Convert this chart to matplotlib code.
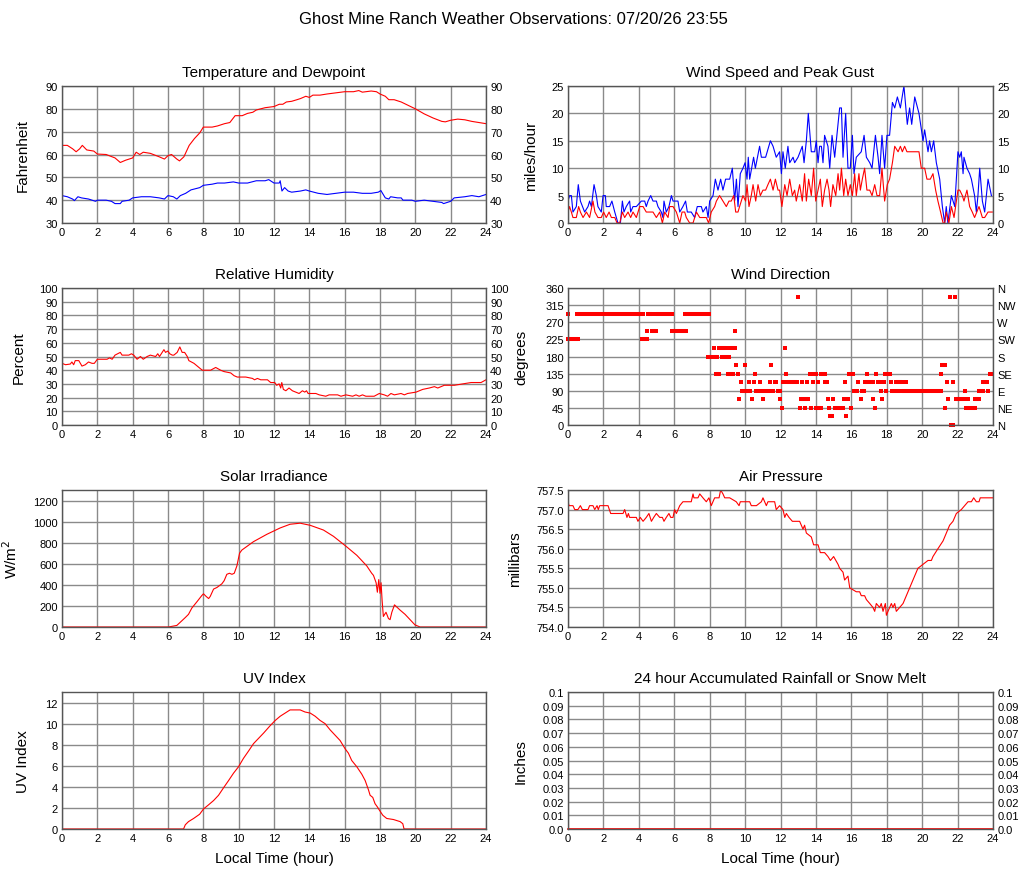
#!/usr/bin/env python3
"""Ghost Mine Ranch daily weather summary, 8 panels."""

import matplotlib
matplotlib.use("Agg")
import matplotlib.pyplot as plt
from matplotlib.ticker import FixedLocator, FixedFormatter

plt.rcParams["font.family"] = ["Liberation Sans", "DejaVu Sans"]

FIG_W, FIG_H = 1027, 878

# temperature / dewpoint (F)
temp_hour = [0, 0.3, 0.6, 0.8, 1.0, 1.15, 1.4, 1.8, 2.0, 2.5, 3.0, 3.3, 3.6, 4.0, 4.2, 4.4,
             4.6, 5.0, 5.5, 5.8, 6.0, 6.2, 6.5, 6.65, 6.9, 7.2, 7.5, 7.8, 8.0, 8.5, 8.8, 9.2,
             9.5, 9.8, 10.2, 10.5, 10.8, 11.0, 11.5, 12.0, 12.3, 12.5, 12.7, 13.0, 13.3, 13.5,
             13.8, 14.0, 14.2, 14.6, 15.0, 15.5, 16.0, 16.5, 16.8, 17.0, 17.5, 17.8, 18.0,
             18.3, 18.5, 18.8, 19.2, 19.6, 20.0, 20.5, 21.0, 21.5, 21.7, 22.0, 22.4, 22.8,
             23.2, 23.6, 24]
temp_f = [64, 64, 62.5, 61.2, 62.5, 64, 62, 61.5, 60.2, 60, 58.5, 56.5, 57.5, 58.5, 61, 60,
          61, 60.5, 59, 58, 59.5, 60, 58, 57.2, 59, 64, 67, 69.5, 72, 72, 72.5, 73.5,
          74, 77, 77, 78, 78.5, 79.5, 80.5, 81, 82, 82, 83, 83.3, 84, 84.5,
          85.5, 85, 86, 86, 86.5, 87, 87.5, 87.5, 88, 87.3, 87.8, 87.5, 86.5,
          85.5, 84, 84, 83, 81.5, 80, 77.8, 76, 74.5, 74.3, 75, 75.5, 75.2,
          74.5, 74, 73.5]
dew_hour = [0, 0.3, 0.6, 0.7, 0.9, 1.1, 1.5, 1.9, 2.0, 2.5, 2.8, 3.0, 3.3, 3.4, 3.8, 4.0,
            4.5, 5.0, 5.5, 5.8, 6.0, 6.3, 6.5, 6.7, 7.0, 7.3, 7.8, 8.0, 8.5, 8.8, 9.2, 9.7,
            10.0, 10.5, 11.0, 11.5, 11.7, 12.0, 12.3, 12.35, 12.45, 12.6, 12.8, 13.0, 13.5,
            13.8, 14.0, 14.5, 15.0, 15.5, 16.0, 16.5, 17.0, 17.5, 17.9, 18.05, 18.3, 18.5,
            18.6, 19.0, 19.2, 19.3, 19.8, 20.0, 20.5, 21.0, 21.5, 21.6, 21.8, 22.0, 22.2,
            22.8, 23.2, 23.6, 24]
dew_f = [42, 41.5, 40.5, 39.8, 41.5, 41, 40.5, 39.5, 40, 40, 39.5, 38.5, 38.5, 39.5, 40, 41,
         41.5, 41.5, 41, 40.5, 42, 41.5, 40.5, 42, 43, 44.5, 45.5, 46.5, 47, 47.5, 47.5, 48,
         47.5, 47.5, 48.5, 48.5, 49, 47.5, 47.5, 48.5, 44, 45.5, 44, 43.5, 44,
         44.5, 44, 43, 42.5, 43, 43.5, 43.5, 43, 43, 43.5, 44.2, 41, 40.5,
         41.5, 41, 41, 40, 40, 39.5, 40, 39.5, 39, 38.5, 39, 39.5, 41,
         41.5, 42, 41.5, 42.5]

# wind speed and peak gust (mph)
gust_hour = [0.00, 0.09, 0.19, 0.28, 0.47, 0.58, 0.70, 0.94, 1.13, 1.22, 1.32, 1.47, 1.60, 1.69,
             1.88, 1.98, 2.11, 2.16, 2.35, 2.48, 2.64, 2.73, 2.82, 2.96, 3.07, 3.16, 3.29, 3.48,
             3.54, 3.67, 3.86, 4.14, 4.33, 4.42, 4.52, 4.67, 4.80, 4.99, 5.08, 5.27, 5.36, 5.42,
             5.55, 5.70, 5.84, 5.93, 6.21, 6.31, 6.49, 6.64, 6.74, 6.96, 7.15, 7.30, 7.53, 7.62,
             7.81, 7.91, 8.00, 8.19, 8.32, 8.47, 8.62, 8.75, 8.90, 9.13, 9.28, 9.41, 9.51, 9.60,
             9.73, 9.88, 10.00, 10.11, 10.18, 10.26, 10.48, 10.58, 10.82, 10.92, 11.16, 11.43,
             11.58, 11.76, 11.95, 12.05, 12.14, 12.27, 12.42, 12.52, 12.71, 12.80, 12.99, 13.23,
             13.33, 13.46, 13.57, 13.74, 13.93, 14.02, 14.12, 14.21, 14.31, 14.40, 14.49, 14.68,
             14.78, 14.91, 15.06, 15.34, 15.44, 15.53, 15.68, 15.81, 15.94, 16.06, 16.15, 16.28,
             16.56, 16.72, 16.85, 17.04, 17.17, 17.36, 17.51, 17.60, 17.73, 17.88, 18.01, 18.16,
             18.32, 18.45, 18.60, 18.77, 18.97, 19.16, 19.29, 19.41, 19.58, 19.82, 20.05, 20.14,
             20.33, 20.42, 20.52, 20.65, 20.80, 20.99, 21.14, 21.27, 21.36, 21.45, 21.65, 21.84,
             22.02, 22.12, 22.21, 22.31, 22.36, 22.53, 22.68, 22.78, 22.96, 23.06, 23.15, 23.25,
             23.40, 23.53, 23.72, 23.91]
gust_mph = [4, 5, 5, 2, 3, 7, 4, 2, 3, 4, 3, 7, 5, 3,
            2, 5, 5, 3, 3, 4, 2, 1, 0, 0, 4, 2, 3, 4,
            2, 3, 3, 4, 4, 3, 4, 5, 4, 4, 3, 2, 1, 4,
            2, 3, 5, 4, 4, 2, 3, 4, 2, 2, 1, 3, 3, 2,
            3, 1, 4, 5, 8, 6, 8, 6, 8, 8, 10, 4, 8, 3,
            9, 10, 11, 8, 12, 8, 12, 10, 14, 12, 12, 15,
            14, 12, 13, 9, 13, 10, 14, 11, 12, 11, 12, 14,
            11, 15, 20, 13, 13, 15, 11, 14, 14, 11, 16, 14,
            10, 16, 12, 21, 21, 12, 20, 10, 10, 16, 9, 12,
            13, 16, 12, 11, 10, 16, 12, 9, 16, 10, 16, 16,
            22, 21, 23, 21, 25, 18, 21, 18, 23, 20, 15, 17,
            13, 15, 13, 15, 11, 8, 3, 0, 3, 0, 5, 3,
            13, 12, 13, 9, 12, 10, 9, 8, 5, 2, 5, 10,
            4, 2, 8, 5]
speed_hour = [0.00, 0.09, 0.19, 0.28, 0.47, 0.60, 0.70, 0.85, 1.04, 1.22, 1.41, 1.52, 1.69, 1.88,
              2.01, 2.16, 2.32, 2.45, 2.64, 2.77, 2.92, 3.07, 3.20, 3.39, 3.54, 3.67, 3.86, 4.05,
              4.24, 4.42, 4.61, 4.80, 4.99, 5.18, 5.33, 5.46, 5.65, 5.74, 5.93, 6.12, 6.31, 6.44,
              6.59, 6.68, 6.87, 7.06, 7.25, 7.44, 7.62, 7.81, 7.94, 8.09, 8.28, 8.38, 8.56, 8.75,
              8.94, 9.09, 9.22, 9.36, 9.47, 9.60, 9.69, 9.88, 10.03, 10.11, 10.22, 10.35, 10.45,
              10.60, 10.73, 10.86, 11.01, 11.16, 11.29, 11.43, 11.58, 11.71, 11.86, 11.95, 12.08,
              12.24, 12.37, 12.52, 12.67, 12.80, 12.89, 13.08, 13.23, 13.36, 13.46, 13.59, 13.74,
              13.87, 13.99, 14.12, 14.25, 14.36, 14.49, 14.63, 14.74, 14.83, 14.96, 15.12, 15.25,
              15.34, 15.44, 15.57, 15.68, 15.81, 15.94, 16.06, 16.19, 16.28, 16.43, 16.51, 16.62,
              16.75, 16.88, 17.04, 17.17, 17.32, 17.45, 17.60, 17.73, 17.88, 18.03, 18.16, 18.32,
              18.45, 18.64, 18.77, 18.88, 19.01, 19.14, 19.48, 19.82, 19.95, 20.14, 20.27, 20.46,
              20.61, 20.76, 20.89, 21.04, 21.18, 21.27, 21.36, 21.51, 21.65, 21.80, 22.02, 22.12,
              22.27, 22.36, 22.53, 22.68, 22.83, 22.96, 23.21, 23.40, 23.53, 23.72, 23.96]
speed_mph = [2, 3, 2, 1, 1, 3, 2, 1, 2, 1, 4, 2, 1, 1,
             2, 1, 2, 1, 1, 0, 0, 2, 1, 2, 1, 2, 1, 3,
             3, 2, 2, 2, 1, 2, 0, 2, 1, 3, 3, 2, 0, 2,
             2, 1, 0, 0, 2, 1, 1, 1, 0, 2, 3, 4, 5, 4,
             3, 4, 4, 5, 2, 2, 3, 5, 4, 7, 3, 5, 7,
             4, 7, 5, 6, 6, 7, 8, 6, 8, 6, 6, 3,
             7, 5, 8, 5, 6, 4, 7, 4, 9, 4, 8, 5,
             10, 4, 6, 8, 3, 6, 8, 6, 3, 7, 5, 9,
             6, 10, 5, 8, 5, 7, 5, 9, 5, 9, 6, 8,
             10, 6, 6, 5, 7, 5, 5, 10, 4, 7, 8, 11,
             14, 13, 14, 13, 14, 13, 13, 13, 10, 10, 8, 8,
             9, 6, 4, 2, 0, 0, 2, 0, 3, 1, 6, 6,
             5, 4, 6, 3, 2, 1, 3, 1, 1, 2, 2]

# relative humidity (%)
rh_hour = [0, 0.2, 0.47, 0.56, 0.66, 0.75, 0.95, 1.13, 1.32, 1.5, 1.7, 1.83, 2.0, 2.35, 2.55,
           2.69, 2.84, 3.0, 3.3, 3.4, 3.78, 3.93, 4.06, 4.25, 4.44, 4.6, 4.82, 5.0, 5.3, 5.42,
           5.52, 5.67, 5.77, 5.86, 5.99, 6.1, 6.24, 6.33, 6.52, 6.67, 6.8, 6.94, 7.09, 7.18,
           7.47, 7.75, 7.94, 8.41, 8.7, 8.98, 9.17, 9.55, 9.74, 9.92, 10.4, 10.78, 10.9, 11.06,
           11.25, 11.63, 11.81, 12.04, 12.15, 12.29, 12.38, 12.44, 12.53, 12.67, 12.85, 13.04,
           13.23, 13.42, 13.61, 13.74, 13.84, 13.93, 14.18, 14.37, 14.56, 14.93, 15.12, 15.6,
           15.79, 16.07, 16.45, 16.64, 16.82, 17.01, 17.2, 17.67, 17.96, 18.24, 18.43, 18.62,
           18.81, 19.19, 19.38, 19.56, 20.04, 20.42, 20.79, 21.08, 21.27, 21.64, 22.21, 22.68,
           23.16, 23.72, 24]
rh_pct = [45, 44, 44.5, 46, 44, 47, 47, 43, 44, 46, 45, 45, 48, 48, 48,
          49, 48, 51, 53, 51, 51, 52, 51, 48, 50, 48, 50, 51, 50, 52,
          50, 53, 55, 53, 54, 52, 51, 51, 53, 57, 53, 53, 50, 47,
          45, 42, 40, 40, 42, 40, 39, 38, 36, 35, 35, 34, 33, 34,
          33, 33, 31, 31, 29, 30, 27, 31, 26, 25, 27, 25,
          24, 23, 25, 24, 25, 23, 23, 23, 22, 21, 22, 22,
          21, 22, 21, 22, 21, 22, 21, 21, 23, 22, 21, 23,
          22, 23, 22, 23, 24, 26, 27, 28, 27, 29, 29, 30,
          31, 31, 33]

# wind direction: runs of constant direction (start hour, end hour, degrees)
dir_start = [0.0, 0.0, 0.53, 4.16, 4.45, 4.5, 4.72, 4.95, 5.86, 6.63, 7.93, 8.23, 8.38, 8.5,
             8.68, 9.04, 9.13, 9.41, 9.5, 9.58, 9.66, 9.75, 9.83, 10.0, 10.22, 10.39, 10.49,
             10.58, 10.64, 10.82, 11.01, 11.43, 11.48, 11.58, 11.67, 11.86, 11.99, 12.08, 12.14,
             12.24, 12.33, 12.37, 13.0, 13.08, 13.14, 13.23, 13.4, 13.5, 13.65, 13.74, 13.84,
             13.89, 13.99, 14.12, 14.31, 14.49, 14.68, 14.74, 14.78, 14.96, 15.06, 15.59, 15.64,
             15.72, 15.81, 15.87, 16.0, 16.13, 16.38, 16.56, 16.62, 16.75, 16.9, 17.22, 17.32,
             17.41, 17.51, 17.66, 17.73, 17.83, 17.92, 17.98, 18.26, 18.32, 18.54, 18.88, 19.1,
             21.08, 21.12, 21.31, 21.41, 21.48, 21.55, 21.61, 21.74, 21.84, 21.89, 22.4, 22.46,
             22.59, 22.96, 23.21, 23.44, 23.74, 23.81]
dir_end = [0.0, 0.57, 4.24, 4.46, 4.45, 4.74, 4.99, 5.89, 6.64, 7.96, 8.41, 8.23, 8.53, 8.9,
           9.07, 9.32, 9.41, 9.41, 9.5, 9.58, 9.66, 9.75, 10.26, 10.0, 10.22, 10.39, 10.49,
           10.58, 11.39, 10.82, 11.01, 11.43, 11.48, 11.58, 11.76, 11.95, 11.99, 12.08, 12.14,
           12.24, 12.33, 12.93, 13.0, 13.08, 13.55, 13.23, 13.4, 13.5, 13.65, 13.74, 13.84,
           14.02, 14.31, 14.12, 14.49, 14.63, 14.68, 14.74, 14.93, 14.96, 15.53, 15.59, 15.64,
           15.72, 15.81, 16.09, 16.0, 16.32, 16.38, 16.56, 16.7, 17.22, 16.9, 17.22, 17.32,
           17.41, 17.6, 17.66, 17.73, 17.83, 18.16, 17.98, 18.26, 18.73, 18.88, 21.08, 19.1,
           21.08, 21.27, 21.31, 21.41, 21.48, 21.55, 21.74, 21.74, 21.84, 22.34, 22.4, 22.96,
           22.59, 23.21, 23.44, 23.68, 23.74, 23.96]
dir_deg = [292.5, 225, 292.5, 225, 247.5, 292.5, 247.5, 292.5, 247.5, 292.5, 180, 202.5, 135, 202.5,
           180, 135, 202.5, 247.5, 157.5, 135, 67.5, 112.5, 90, 157.5, 112.5, 67.5, 112.5,
           135, 90, 112.5, 67.5, 112.5, 157.5, 90, 112.5, 90, 67.5, 45, 112.5,
           202.5, 135, 112.5, 337.5, 45, 67.5, 112.5, 45, 112.5, 135, 45, 112.5,
           135, 45, 112.5, 135, 112.5, 67.5, 45, 22.5, 67.5, 45, 67.5, 112.5,
           22.5, 67.5, 135, 45, 90, 112.5, 67.5, 90, 112.5, 135, 67.5, 45,
           135, 112.5, 90, 67.5, 112.5, 135, 90, 112.5, 90, 112.5, 90, 112.5,
           135, 157.5, 45, 112.5, 67.5, 337.5, 0, 112.5, 337.5, 67.5, 90, 45,
           67.5, 67.5, 90, 112.5, 90, 135]
compass_deg = [0, 45, 90, 135, 180, 225, 270, 315, 360]
compass_lbl = ["N", "NE", "E", "SE", "S", "SW", "W", "NW", "N"]

# solar irradiance (W/m2)
solar_hour = [0, 6.03, 6.5, 6.79, 6.98, 7.16, 7.35, 7.64, 7.92, 8.01, 8.16, 8.3, 8.39, 8.58,
              8.77, 9.05, 9.18, 9.33, 9.48, 9.62, 9.75, 9.9, 10.05, 10.18, 10.84, 11.6, 12.35,
              12.91, 13.48, 14.05, 14.8, 15.37, 16.12, 16.69, 17.25, 17.53, 17.63, 17.78, 17.85,
              17.93, 18.0, 18.06, 18.12, 18.19, 18.34, 18.48, 18.57, 18.67, 18.82, 19.14, 19.42,
              19.7, 19.98, 20.27, 24]
solar_wm2 = [0, 0, 15, 60, 90, 120, 180, 240, 300, 315, 290, 270, 290, 360,
             375, 410, 440, 500, 510, 500, 510, 580, 700, 730, 810, 880, 940,
             975, 985, 965, 920, 860, 760, 680, 580, 510, 490, 420, 330,
             450, 320, 420, 250, 100, 140, 80, 70, 140, 210, 160, 120,
             70, 20, 0, 0]

# air pressure (mbar)
pres_hour = [0, 0.06, 0.28, 0.38, 0.56, 0.7, 0.81, 1.13, 1.22, 1.41, 1.51, 1.64, 1.71, 1.79,
             1.98, 2.26, 2.41, 3.11, 3.2, 3.33, 3.41, 3.48, 3.86, 3.95, 4.08, 4.24, 4.42, 4.57,
             4.71, 4.84, 4.99, 5.18, 5.33, 5.42, 5.55, 5.7, 5.8, 5.93, 6.02, 6.12, 6.31, 6.49,
             6.96, 7.06, 7.11, 7.34, 7.44, 7.62, 7.81, 7.96, 8.09, 8.28, 8.53, 8.62, 8.75, 8.85,
             9.13, 9.5, 9.66, 9.73, 10.26, 10.35, 10.64, 10.92, 11.01, 11.2, 11.29, 11.67, 11.76,
             11.95, 12.14, 12.24, 12.33, 12.48, 12.67, 13.08, 13.27, 13.36, 13.46, 13.74, 13.87,
             14.12, 14.25, 14.49, 14.68, 14.82, 15.0, 15.25, 15.34, 15.53, 15.62, 15.81, 15.91,
             16.28, 16.47, 16.56, 16.75, 16.85, 17.04, 17.22, 17.32, 17.41, 17.6, 17.69, 17.79,
             17.92, 17.98, 18.07, 18.26, 18.35, 18.45, 18.54, 18.73, 18.92, 19.29, 19.48, 19.76,
             20.05, 20.33, 20.52, 20.61, 20.89, 21.18, 21.55, 21.74, 21.93, 22.21, 22.4, 22.59,
             22.78, 22.91, 23.06, 23.21, 23.28, 24]
pres_mb = [757.2, 757.1, 757.1, 757.0, 757.0, 757.1, 757.0, 757.0, 757.1, 757.1, 757.0, 757.1,
           757.0, 757.1, 757.1, 757.1, 756.9, 756.9, 757.0, 756.8, 756.9, 756.8, 756.8, 756.7,
           756.8, 756.7, 756.8, 756.9, 756.7, 756.8, 756.9, 756.8, 756.8, 756.7, 756.8, 756.9,
           756.8, 756.8, 757.0, 756.9, 757.1, 757.2, 757.2, 757.4, 757.3, 757.3, 757.4, 757.3,
           757.2, 757.3, 757.1, 757.3, 757.3, 757.5, 757.4, 757.3, 757.3, 757.2, 757.1, 757.2,
           757.2, 757.1, 757.1, 757.2, 757.3, 757.1, 757.2, 757.2, 757.0, 757.1, 757.0, 756.8,
           756.9, 756.8, 756.7, 756.7, 756.5, 756.6, 756.4, 756.3, 756.1, 756.1, 755.9, 755.9,
           755.8, 755.7, 755.8, 755.6, 755.5, 755.4, 755.2, 755.3, 755.0, 754.9, 754.9, 754.8,
           754.8, 754.7, 754.6, 754.5, 754.4, 754.6, 754.5, 754.6, 754.4, 754.6, 754.3, 754.4,
           754.6, 754.5, 754.6, 754.4, 754.5, 754.6, 755.0, 755.2, 755.5, 755.6, 755.7, 755.7,
           755.8, 756.0, 756.2, 756.6, 756.7, 756.9, 757.0, 757.1, 757.2, 757.2, 757.3, 757.2,
           757.2, 757.3, 757.3]

# UV index
uv_hour = [0, 6.88, 6.98, 7.16, 7.45, 7.79, 8.01, 8.3, 8.58, 8.86, 9.14, 9.43, 9.71, 9.99,
           10.27, 10.56, 10.84, 11.41, 11.78, 12.07, 12.35, 12.63, 12.91, 13.48, 13.76, 14.05,
           14.33, 14.61, 14.89, 15.18, 15.46, 15.74, 16.03, 16.21, 16.4, 16.69, 16.97, 17.16,
           17.35, 17.44, 17.59, 17.72, 17.85, 18.0, 18.16, 18.38, 18.76, 19.14, 19.29, 19.36, 24]
uv_index = [0, 0, 0.4, 0.7, 1.0, 1.4, 1.9, 2.3, 2.7, 3.2, 3.9, 4.6, 5.3, 5.9,
            6.7, 7.4, 8.1, 9.1, 9.8, 10.3, 10.7, 11.0, 11.3, 11.3, 11.1, 11.0,
            10.7, 10.3, 10.0, 9.4, 8.9, 8.4, 7.6, 7.2, 6.5, 5.9, 5.2, 4.6,
            3.7, 3.2, 3.0, 2.4, 2.1, 1.7, 1.3, 1.0, 0.9, 0.7, 0.5, 0, 0]

# accumulated rainfall (inches)
rain_hour = [0, 24]
rain_in = [0.0, 0.0]
rain_ticks = [0.0, 0.01, 0.02, 0.03, 0.04, 0.05, 0.06, 0.07, 0.08, 0.09, 0.1]
rain_lbl = ["0.0", "0.01", "0.02", "0.03", "0.04", "0.05", "0.06", "0.07", "0.08", "0.09", "0.1"]

hour_ticks = list(range(0, 25, 2))

LEFT_X = (62, 486)
RIGHT_X = (568, 993)
ROWS_Y = [(87, 224), (289, 426), (491, 628), (693, 830)]
GRID_COLOR = "#8a8a8a"
FRAME_COLOR = "#555555"
LINE_W = 0.8


def make_axes(fig, col, row):
    x0, x1 = LEFT_X if col == 0 else RIGHT_X
    y0, y1 = ROWS_Y[row]
    ax = fig.add_axes([x0 / FIG_W, 1 - y1 / FIG_H, (x1 - x0) / FIG_W, (y1 - y0) / FIG_H])
    ax.set_xlim(0, 24)
    ax.set_xticks(hour_ticks)
    ax.grid(True, color=GRID_COLOR, linewidth=1.0)
    ax.set_axisbelow(True)
    ax.tick_params(length=0, pad=3, labelsize=8, colors="black")
    for spine in ax.spines.values():
        spine.set_color(FRAME_COLOR)
        spine.set_linewidth(1.0)
    return ax


def finish(ax, title, ylabel, ylabel_x_px, col, right_labels=False):
    ax.set_title(title, fontsize=11, pad=7)
    ax.set_ylabel(ylabel, fontsize=11)
    x0, x1 = LEFT_X if col == 0 else RIGHT_X
    ax.yaxis.set_label_coords((ylabel_x_px - x0) / (x1 - x0), 0.5)
    if right_labels:
        ax.tick_params(labelright=True)


def main():
    fig = plt.figure(figsize=(FIG_W / 100, FIG_H / 100), dpi=100)
    fig.text(0.5, 1 - 20 / FIG_H, "Ghost Mine Ranch Weather Observations: 07/20/26 23:55",
             ha="center", va="center", fontsize=12)

    # temperature and dewpoint
    ax = make_axes(fig, 0, 0)
    ax.plot(temp_hour, temp_f, color="red", lw=LINE_W)
    ax.plot(dew_hour, dew_f, color="blue", lw=LINE_W)
    ax.set_ylim(30, 90)
    ax.set_yticks(range(30, 91, 10))
    finish(ax, "Temperature and Dewpoint", "Fahrenheit", 30, 0, right_labels=True)

    # wind speed and gust
    ax = make_axes(fig, 1, 0)
    ax.plot(gust_hour, gust_mph, color="blue", lw=LINE_W)
    ax.plot(speed_hour, speed_mph, color="red", lw=LINE_W)
    ax.set_ylim(0, 25)
    ax.set_yticks(range(0, 26, 5))
    finish(ax, "Wind Speed and Peak Gust", "miles/hour", 538, 1, right_labels=True)

    # relative humidity
    ax = make_axes(fig, 0, 1)
    ax.plot(rh_hour, rh_pct, color="red", lw=LINE_W)
    ax.set_ylim(0, 100)
    ax.set_yticks(range(0, 101, 10))
    finish(ax, "Relative Humidity", "Percent", 26, 0, right_labels=True)

    # wind direction
    ax = make_axes(fig, 1, 1)
    for s, e, d in zip(dir_start, dir_end, dir_deg):
        ax.plot([s, e], [d, d], color="red", lw=2.9, marker="s", ms=3.0, mew=0,
                solid_capstyle="butt", clip_on=False)
    ax.set_ylim(0, 360)
    ax.set_yticks(range(0, 361, 45))
    finish(ax, "Wind Direction", "degrees", 528, 1)
    ax2 = ax.twinx()
    ax2.set_ylim(0, 360)
    ax2.yaxis.set_major_locator(FixedLocator(compass_deg))
    ax2.yaxis.set_major_formatter(FixedFormatter(compass_lbl))
    ax2.tick_params(length=0, pad=3, labelsize=8)
    for spine in ax2.spines.values():
        spine.set_visible(False)

    # solar irradiance
    ax = make_axes(fig, 0, 2)
    ax.plot(solar_hour, solar_wm2, color="red", lw=LINE_W)
    ax.set_ylim(0, 1300)
    ax.set_yticks(range(0, 1201, 200))
    finish(ax, "Solar Irradiance", "W/m$^2$", 20, 0)

    # air pressure
    ax = make_axes(fig, 1, 2)
    ax.plot(pres_hour, pres_mb, color="red", lw=LINE_W)
    ax.set_ylim(754.0, 757.5)
    ax.set_yticks([754.0 + 0.5 * i for i in range(8)])
    ax.yaxis.set_major_formatter(plt.FormatStrFormatter("%.1f"))
    finish(ax, "Air Pressure", "millibars", 522, 1)

    # uv index
    ax = make_axes(fig, 0, 3)
    ax.plot(uv_hour, uv_index, color="red", lw=LINE_W)
    ax.set_ylim(0, 13)
    ax.set_yticks(range(0, 13, 2))
    finish(ax, "UV Index", "UV Index", 30, 0)
    ax.set_xlabel("Local Time (hour)", fontsize=11)
    ax.xaxis.set_label_coords(0.5, -(859 - 830) / 137)
    ax.xaxis.label.set_va("center")

    # rainfall
    ax = make_axes(fig, 1, 3)
    ax.plot(rain_hour, rain_in, color="red", lw=1.2, clip_on=False)
    ax.set_ylim(0, 0.1)
    ax.yaxis.set_major_locator(FixedLocator(rain_ticks))
    ax.yaxis.set_major_formatter(FixedFormatter(rain_lbl))
    finish(ax, "24 hour Accumulated Rainfall or Snow Melt", "Inches", 528, 1, right_labels=True)
    ax.set_xlabel("Local Time (hour)", fontsize=11)
    ax.xaxis.set_label_coords(0.5, -(859 - 830) / 137)
    ax.xaxis.label.set_va("center")

    fig.savefig("out.png", dpi=100, facecolor="white")
    plt.close(fig)


if __name__ == "__main__":
    main()
